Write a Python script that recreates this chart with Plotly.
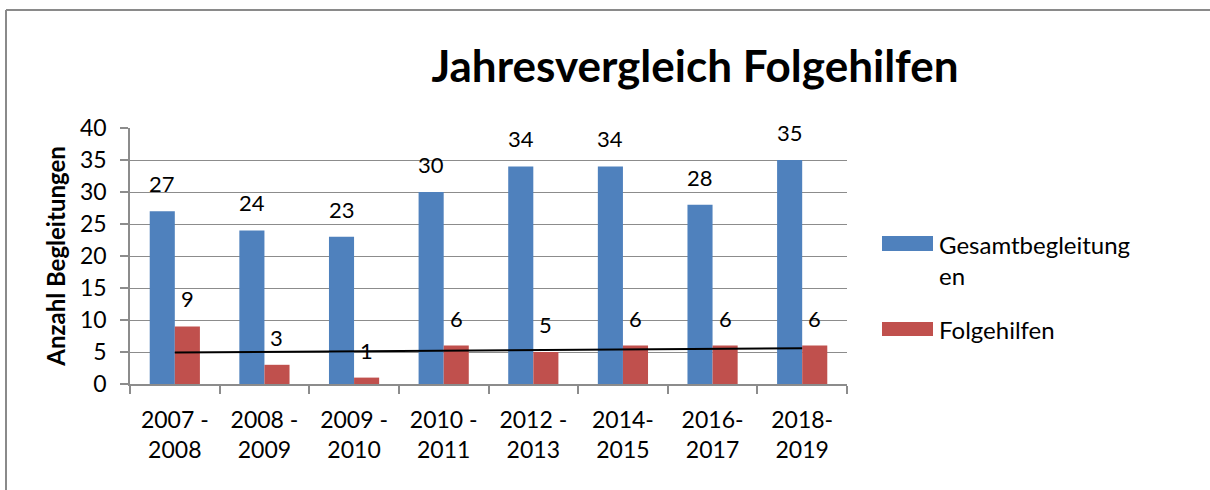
import numpy as np
import plotly.graph_objects as go

# ---- data ----
categories = ["2007 -<br>2008", "2008 -<br>2009", "2009 -<br>2010", "2010 -<br>2011",
              "2012 -<br>2013", "2014-<br>2015", "2016-<br>2017", "2018-<br>2019"]
gesamt = [27, 24, 23, 30, 34, 34, 28, 35]
folge = [9, 3, 1, 6, 5, 6, 6, 6]
series_names = ["Gesamtbegleitung<br>en", "Folgehilfen"]
title_text = "Jahresvergleich Folgehilfen"
y_title = "Anzahl Begleitungen"

BLUE = "#4F81BD"
RED = "#C0504D"
GRID = "#8C8C8C"
FONT = "Lato"

W, H = 1210, 490
L, R, T, B = 130, 363, 128, 106
PW, PH = W - L - R, H - T - B


def px_x(px):
    return (px - L) / PW


def px_y(py):
    return (H - B - py) / PH


# linear trend of Folgehilfen
xi = np.arange(1, len(folge) + 1)
slope, intercept = np.polyfit(xi, folge, 1)
trend = slope * xi + intercept

fig = go.Figure()
fig.add_trace(go.Bar(x=categories, y=gesamt, name=series_names[0], marker_color=BLUE,
                     marker_line_width=0, showlegend=False))
fig.add_trace(go.Bar(x=categories, y=folge, name=series_names[1], marker_color=RED,
                     marker_line_width=0, showlegend=False))
fig.add_trace(go.Scatter(x=categories, y=trend, mode="lines", line=dict(color="black", width=2),
                         showlegend=False, hoverinfo="skip"))

bargap = 0.44
bar_px = PW / len(categories) * (1 - bargap) / 2
annotations = []
for c, g, f in zip(categories, gesamt, folge):
    annotations.append(dict(x=c, y=g, text=str(g), showarrow=False, xref="x", yref="y",
                            xshift=-bar_px / 2, yshift=12, yanchor="bottom",
                            font=dict(size=22, color="black", family=FONT)))
    annotations.append(dict(x=c, y=f, text=str(f), showarrow=False, xref="x", yref="y",
                            xshift=bar_px / 2, yshift=12, yanchor="bottom",
                            font=dict(size=22, color="black", family=FONT)))

# custom legend
shapes = [
    dict(type="rect", xref="paper", yref="paper", x0=px_x(882), x1=px_x(933),
         y0=px_y(251), y1=px_y(236), fillcolor=BLUE, line_width=0),
    dict(type="rect", xref="paper", yref="paper", x0=px_x(882), x1=px_x(933),
         y0=px_y(336), y1=px_y(322), fillcolor=RED, line_width=0),
    # chart border (top and left visible)
    dict(type="line", xref="paper", yref="paper", x0=px_x(6), x1=px_x(1215),
         y0=px_y(10), y1=px_y(10), line=dict(color="#8A8A8A", width=2)),
    dict(type="line", xref="paper", yref="paper", x0=px_x(6), x1=px_x(6),
         y0=px_y(10), y1=px_y(500), line=dict(color="#8A8A8A", width=2)),
]
annotations.append(dict(x=px_x(937), y=px_y(260), xref="paper", yref="paper",
                        text=series_names[0], showarrow=False, xanchor="left", yanchor="middle",
                        align="left", font=dict(size=24, color="black", family=FONT)))
annotations.append(dict(x=px_x(937), y=px_y(329), xref="paper", yref="paper",
                        text=series_names[1], showarrow=False, xanchor="left", yanchor="middle",
                        align="left", font=dict(size=24, color="black", family=FONT)))

fig.update_layout(
    width=W, height=H,
    margin=dict(l=L, r=R, t=T, b=B, pad=0),
    paper_bgcolor="white", plot_bgcolor="white",
    barmode="group", bargap=bargap, bargroupgap=0,
    title=dict(text=title_text, x=px_x(695), xref="paper", xanchor="center",
               y=1 - 67 / H, yanchor="middle",
               font=dict(size=44, family=FONT, color="black", weight="bold")),
    font=dict(family=FONT, color="black", size=22),
    annotations=annotations,
    shapes=shapes,
    xaxis=dict(type="category", tickson="boundaries", ticks="outside", ticklen=8,
               tickcolor=GRID, tickwidth=1.5, showline=True, linecolor=GRID, linewidth=1.5,
               showgrid=False, tickfont=dict(size=23, family=FONT, color="black"),
               ticklabelstandoff=15, mirror=False),
    yaxis=dict(range=[0, 40], dtick=5, ticks="outside", ticklen=8, tickcolor=GRID,
               tickwidth=1.5, showline=True, linecolor=GRID, linewidth=1.5,
               showgrid=True, gridcolor=GRID, gridwidth=1.2, zeroline=False,
               tickfont=dict(size=23, family=FONT, color="black"), ticklabelstandoff=9,
               title=dict(text="<b>" + y_title + "</b>", standoff=8,
                          font=dict(size=24, family=FONT, color="black"))),
)

fig.write_html("out.html",
               config={"displayModeBar": False},
               post_script="document.body.style.margin='0';"
                           "document.documentElement.style.overflow='hidden';")
